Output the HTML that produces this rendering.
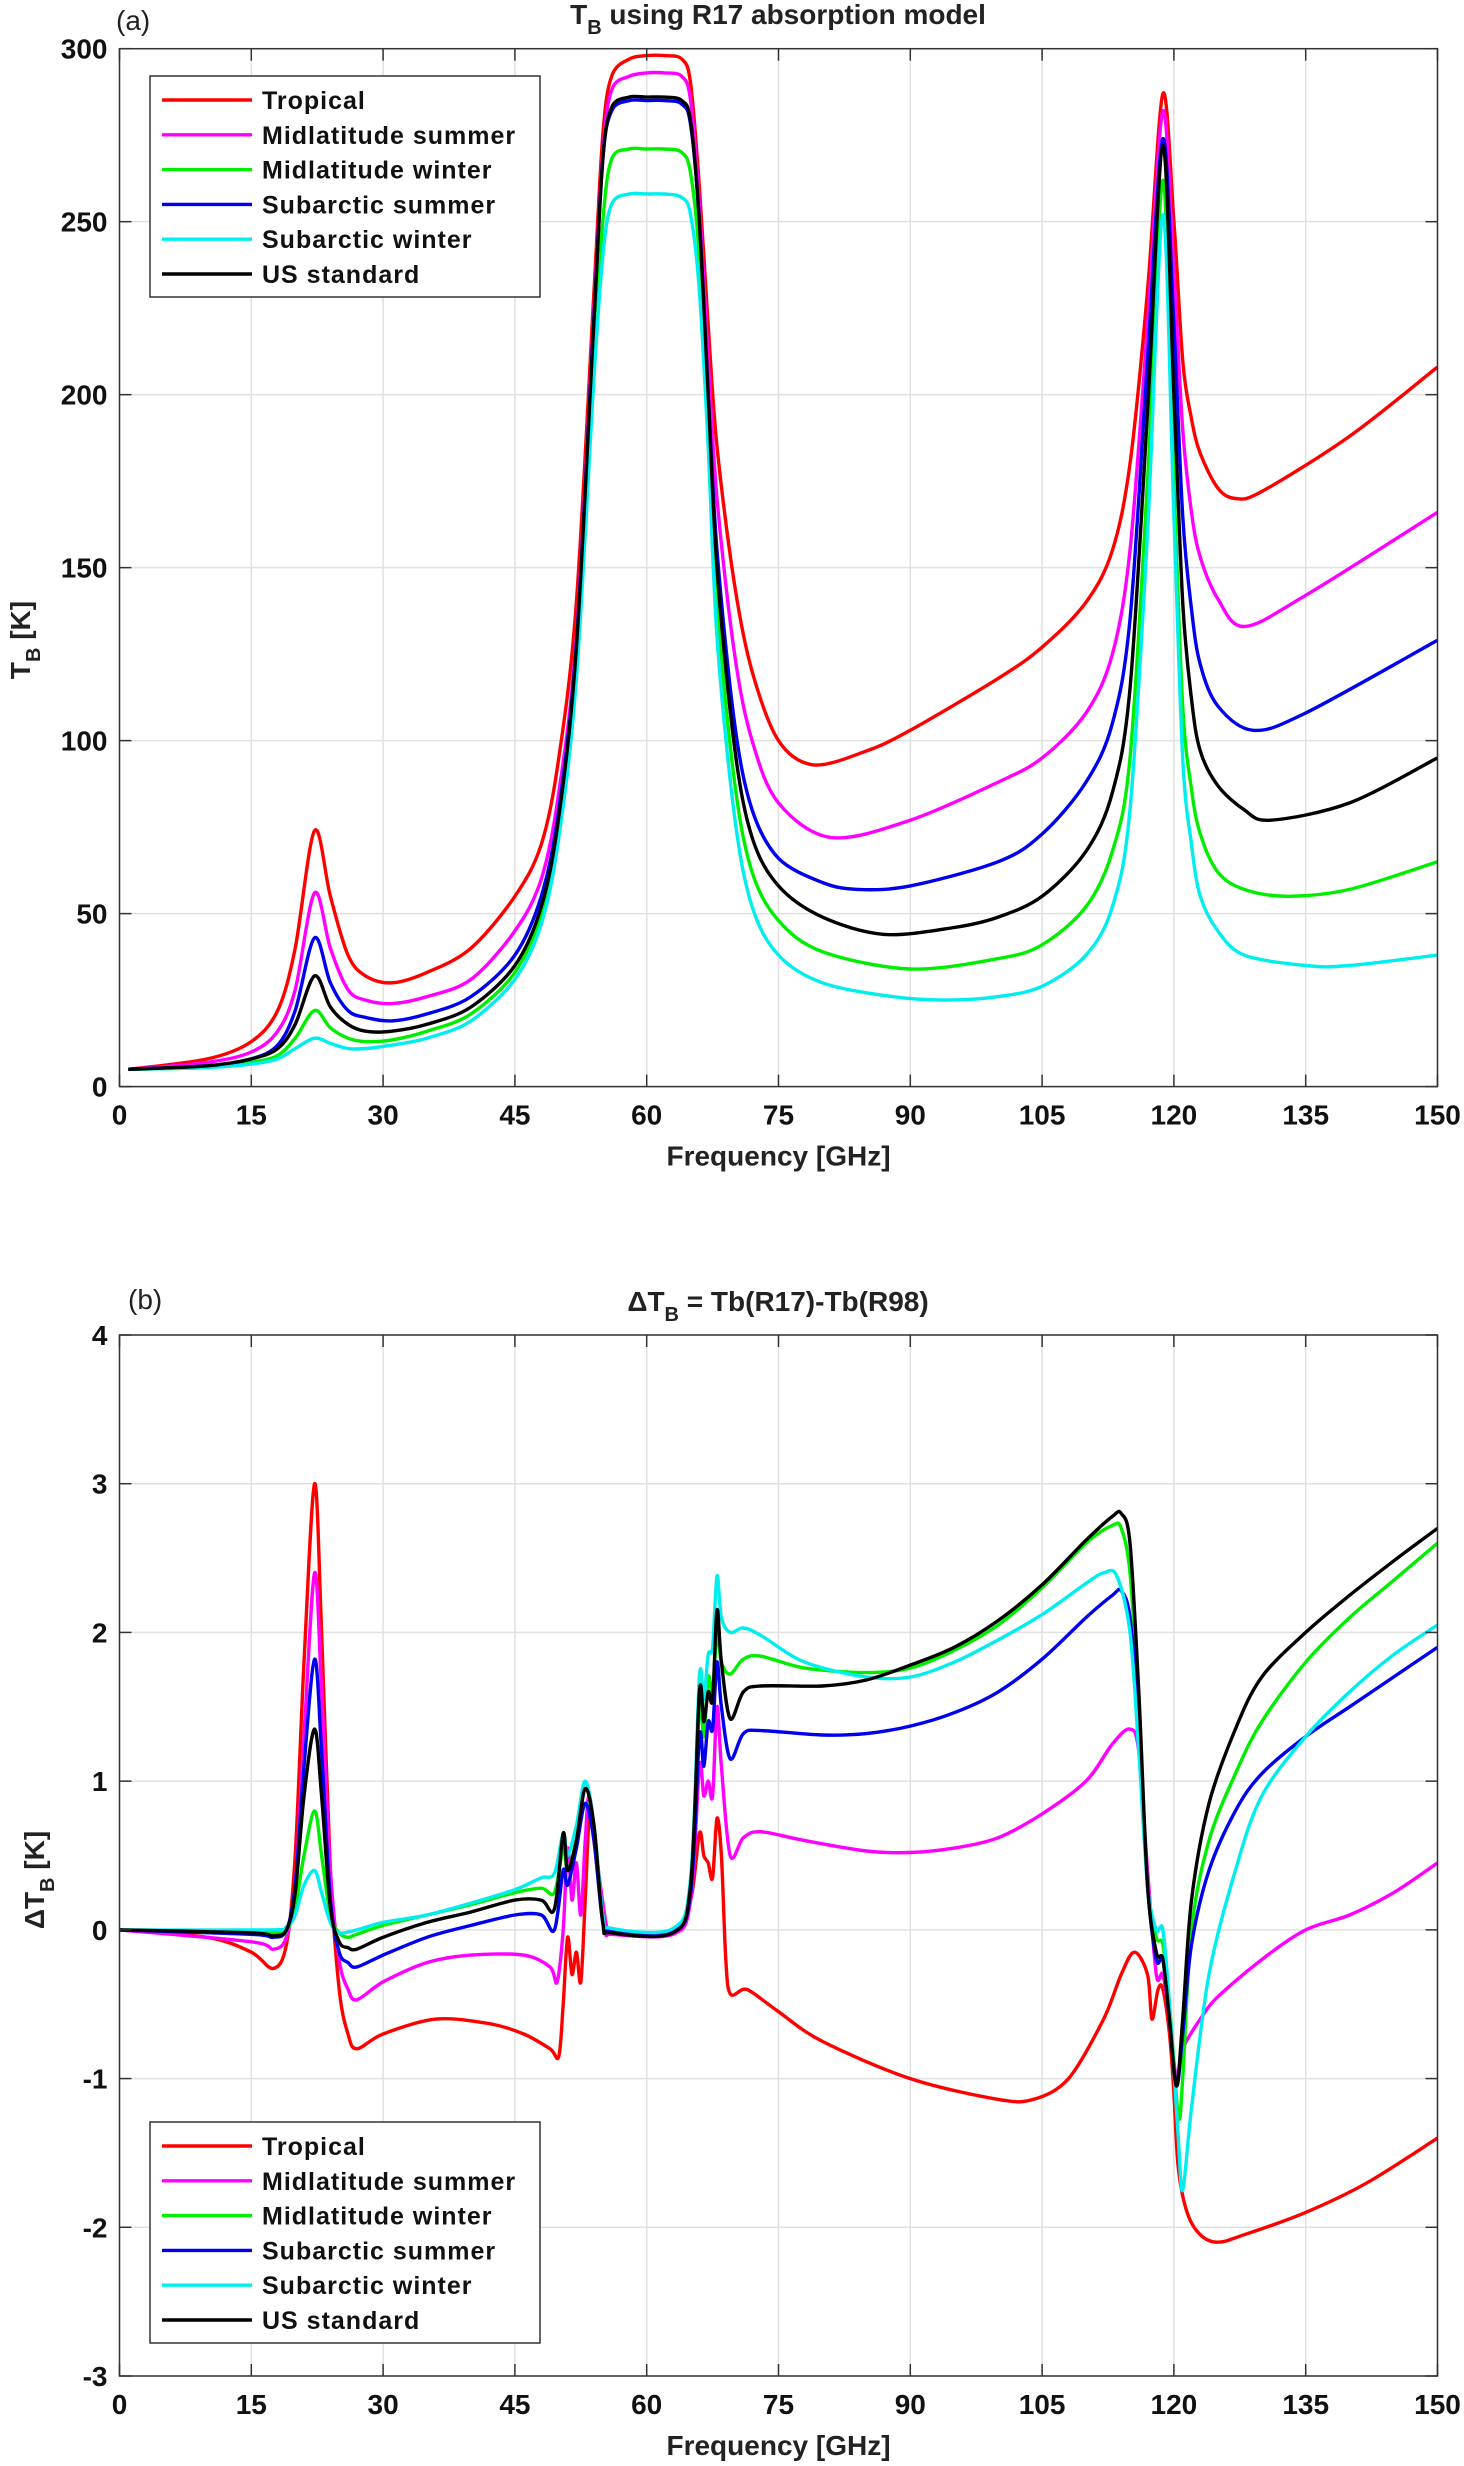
<!DOCTYPE html>
<html><head><meta charset="utf-8"><style>
html,body{margin:0;padding:0;background:#fff;}
svg{display:block;font-family:"Liberation Sans",sans-serif;}
</style></head><body>
<svg id="chart" width="1464" height="2466" viewBox="0 0 1464 2466" xmlns="http://www.w3.org/2000/svg"></svg>
<script>
const xTicks=[0,15,30,45,60,75,90,105,120,135,150];
const yTicksA=[0,50,100,150,200,250,300];
const yTicksB=[-3,-2,-1,0,1,2,3,4];
const names=["Tropical","Midlatitude summer","Midlatitude winter","Subarctic summer","Subarctic winter","US standard"];
const colors=["#ff0000","#ff00ff","#00ee00","#0000ee","#00eeee","#000000"];

// Panel (a) TB
const aTropF=[1,10,15,18,20,22.2,24,26,28,31,35,40,45,48,50,52,54,55,56,58,60,62,64,65,66,67,68,70,72,75,79,85,90,100,105,110,113,115,117,118.75,120,121,122,123,125,127,130,140,150];
const aTropV=[5,8,13,22,40,74,55,38,32,30,33,40,55,70,95,140,230,275,292,297,298,298,297,290,260,220,185,145,120,100,93,97,103,118,127,140,155,180,230,287,250,210,193,183,173,170,172,188,208];
const aMlsF=[1,10,15,18,20,22.2,24,26,28,31,35,40,45,48,50,52,54,55,56,58,60,62,64,65,66,67,68,70,72,75,81,90,100,105,110,113,115,117,118.75,120,121,122,123,125,128,135,150];
const aMlsV=[5,7,10,16,28,56,40,28,25,24,26,31,45,60,85,130,225,270,288,292,293,293,292,285,255,210,170,125,100,82,72,77,88,95,108,125,155,220,282,235,190,166,153,141,133,142,166];
const aMlwF=[1,10,15,18,20,22.2,24,26,28,31,35,40,45,48,50,52,54,55,56,58,60,62,64,65,66,67,68,70,72,75,80,90,100,105,110,113,115,117,118.75,120,121,122,123,125,128,133,140,150];
const aMlwV=[5,5.5,7,9,14,22,17,14,13,13.5,16,21,33,50,75,120,210,250,268,271,271,271,270,264,240,195,140,88,62,48,39,34,37,41,52,68,95,175,262,175,110,86,73,62,57,55,57,65];
const aSasF=[1,10,15,18,20,22.2,24,26,28,31,35,40,45,48,50,52,54,55,56,58,60,62,64,65,66,67,68,70,72,75,80,84,90,100,105,110,113,115,117,118.75,120,121,122,123,125,129,135,150];
const aSasV=[5,6,8,12,22,43,30,22,20,19,21,26,38,55,80,128,222,268,282,285,285,285,284,278,250,200,155,105,80,66,59,57,58,65,73,88,105,135,210,274,220,165,138,122,110,103,108,129];
const aSawF=[1,10,15,18,20,22.2,24,26,28,31,35,40,45,48,50,52,54,55,56,58,60,62,64,65,66,67,68,70,72,75,80,88,94,100,105,110,113,115,117,118.75,120,121,122,123,125,128,135,140,150];
const aSawV=[5,5.5,6.5,8,11,14,12.5,11,11,12,14,19,31,47,72,118,205,240,255,258,258,258,257,252,230,185,130,78,52,38,30,26,25,26,29,38,52,80,160,252,165,95,70,55,45,38,35,35,38];
const aUsF=[1,10,15,18,20,22.2,24,26,28,31,35,40,45,48,50,52,54,55,56,58,60,62,64,65,66,67,68,70,72,75,80,87,95,100,105,110,113,115,117,118.75,120,121,122,123,125,128,131,140,150];
const aUsV=[5,6,8,11,18,32,23,18,16,16,18,23,35,52,78,127,222,268,283,286,286,286,285,279,250,200,150,98,72,58,49,44,46,49,55,68,85,115,195,272,200,140,112,97,87,80,77,82,95];

// Panel (b) dTB
const bTropF=[0,10,15,17.5,19,20,21,22.2,23,24,25,26,27,30,36,42,46,49,50,50.5,51,51.5,52,52.5,53,53.5,54,55,56,60,63,65,66,66.5,67,67.5,68,68.5,69,69.5,71,72,75,80,90,100,104,108,112,114,115.5,117,117.5,118.2,118.75,119.5,120,120.5,121.5,123,125,128,135,142,150];
const bTropV=[0,-0.05,-0.15,-0.26,-0.1,0.5,1.8,3.0,2.0,0.4,-0.4,-0.7,-0.8,-0.7,-0.6,-0.63,-0.7,-0.8,-0.85,-0.5,-0.05,-0.3,-0.15,-0.35,0.2,0.8,0.6,0.1,-0.02,-0.03,-0.02,0.2,0.65,0.5,0.45,0.35,0.75,0.5,-0.2,-0.43,-0.4,-0.42,-0.55,-0.75,-1.0,-1.14,-1.14,-1.0,-0.6,-0.3,-0.15,-0.3,-0.6,-0.4,-0.4,-0.7,-1.1,-1.6,-1.9,-2.05,-2.1,-2.05,-1.9,-1.7,-1.4];
const bMlsF=[0,15,17.5,19,20,21,22.2,23,24,25,26,27,30,35,40,46,49,49.8,50.5,51,51.5,52,52.5,53,53.5,54.5,55.5,56,63,65,66,66.5,67,67.5,68,68.5,69.5,71,73,78,85,90,95,100,105,110,113,115,116,117,118,118.75,119.5,120.3,121,123,125,130,135,140,145,150];
const bMlsV=[0,-0.08,-0.13,-0.05,0.3,1.3,2.4,1.6,0.4,-0.2,-0.4,-0.47,-0.35,-0.22,-0.17,-0.17,-0.25,-0.35,0.0,0.55,0.2,0.45,0.1,0.6,0.9,0.4,0.0,-0.03,-0.03,0.2,1.1,0.9,1.0,0.9,1.5,1.1,0.5,0.62,0.66,0.6,0.53,0.52,0.55,0.62,0.78,1.0,1.25,1.35,1.2,0.4,-0.3,-0.3,-0.6,-1.0,-0.8,-0.6,-0.45,-0.2,0.0,0.1,0.25,0.45];
const bMlwF=[0,17,19,20,21,22.2,23,24,25,26,27,30,35,40,45,48,49.5,50.5,51,52,53,54,55,56,63,65,66,66.5,67,67.5,68,68.5,69.5,71,73,78,85,90,95,100,105,110,113,114,115,116,117,118,118.75,119.5,120.5,121,122,124,127,130,135,140,145,150];
const bMlwV=[0,-0.02,0.0,0.15,0.5,0.8,0.5,0.1,-0.02,-0.05,-0.03,0.03,0.1,0.17,0.25,0.28,0.25,0.55,0.4,0.6,0.85,0.7,0.1,-0.01,0.0,0.3,1.5,1.3,1.7,1.6,2.0,1.8,1.72,1.82,1.84,1.76,1.73,1.76,1.88,2.05,2.3,2.6,2.72,2.7,2.4,1.5,0.3,-0.05,-0.1,-0.5,-1.25,-1.0,0.0,0.6,1.05,1.4,1.8,2.1,2.35,2.6];
const bSasF=[0,15,17.5,19,20,21,22.2,23,24,25,26,27,30,35,40,45,48,49.5,50.5,51,52,53,54,55,56,63,65,66,66.5,67,67.5,68,68.5,69.5,71,73,80,85,90,95,100,105,110,113,114,115,116,117,118,118.75,119.5,120.3,121,122,124,127,130,135,140,145,150];
const bSasV=[0,-0.03,-0.05,0.0,0.3,1.1,1.82,1.2,0.2,-0.15,-0.22,-0.25,-0.17,-0.05,0.03,0.1,0.1,0.0,0.4,0.3,0.55,0.85,0.6,0.05,-0.01,-0.01,0.25,1.3,1.1,1.4,1.35,1.8,1.5,1.15,1.32,1.34,1.31,1.32,1.37,1.46,1.6,1.82,2.1,2.25,2.28,2.1,1.4,0.3,-0.2,-0.2,-0.6,-1.05,-0.7,-0.1,0.4,0.8,1.05,1.3,1.5,1.7,1.9];
const bSawF=[0,17,19,20,21,22.2,23,24,25,27,30,35,40,45,48,49.5,50.5,51,52,53,54,55,56,63,65,66,66.5,67,67.5,68,68.5,69.5,71,73,78,85,90,95,100,105,110,112,113.5,115,116,117,118,118.75,119.5,120.5,121,122,124,127,130,135,140,145,150];
const bSawV=[0,0.0,0.02,0.1,0.3,0.4,0.25,0.05,-0.02,0.0,0.05,0.1,0.18,0.27,0.35,0.38,0.65,0.5,0.7,1.0,0.7,0.1,0.01,0.01,0.35,1.7,1.55,1.85,1.9,2.38,2.1,2.0,2.03,1.98,1.8,1.7,1.7,1.8,1.95,2.12,2.33,2.4,2.38,2.0,1.2,0.3,0.0,0.0,-0.5,-1.4,-1.75,-1.2,-0.3,0.4,0.9,1.3,1.6,1.85,2.05];
const bUsF=[0,15,17.5,19,20,21,22.2,23,24,25,26,27,30,35,40,45,48,49.5,50.5,51,52,53,54,55,56,63,65,66,66.5,67,67.5,68,68.5,69.5,71,73,80,85,90,95,100,105,110,113,114,115,116,117,118,118.75,119.5,120.3,121,122,124,127,130,135,140,145,150];
const bUsV=[0,-0.02,-0.04,0.0,0.25,0.9,1.35,0.9,0.15,-0.08,-0.12,-0.13,-0.05,0.05,0.12,0.2,0.2,0.14,0.65,0.4,0.6,0.95,0.7,0.05,-0.02,-0.02,0.3,1.6,1.4,1.6,1.55,2.15,1.8,1.42,1.6,1.64,1.64,1.68,1.78,1.9,2.08,2.32,2.62,2.78,2.8,2.6,1.6,0.3,-0.15,-0.2,-0.6,-1.05,-0.6,0.2,0.85,1.35,1.7,2.0,2.25,2.48,2.7];

const seriesA=[[aTropF,aTropV],[aMlsF,aMlsV],[aMlwF,aMlwV],[aSasF,aSasV],[aSawF,aSawV],[aUsF,aUsV]];
const seriesB=[[bTropF,bTropV],[bMlsF,bMlsV],[bMlwF,bMlwV],[bSasF,bSasV],[bSawF,bSawV],[bUsF,bUsV]];

const NS="http://www.w3.org/2000/svg";
const svg=document.getElementById('chart');
function mk(tag,attrs,parent){const e=document.createElementNS(NS,tag);for(const k in attrs)e.setAttribute(k,attrs[k]);(parent||svg).appendChild(e);return e;}
function pathD(pts){
  let d="M"+pts[0][0].toFixed(1)+","+pts[0][1].toFixed(1);
  for(let i=0;i<pts.length-1;i++){
    const p0=pts[Math.max(0,i-1)],p1=pts[i],p2=pts[i+1],p3=pts[Math.min(pts.length-1,i+2)];
    const t=0.16;
    const c1=[p1[0]+(p2[0]-p0[0])*t,p1[1]+(p2[1]-p0[1])*t];
    const c2=[p2[0]-(p3[0]-p1[0])*t,p2[1]-(p3[1]-p1[1])*t];
    d+="C"+c1[0].toFixed(1)+","+c1[1].toFixed(1)+" "+c2[0].toFixed(1)+","+c2[1].toFixed(1)+" "+p2[0].toFixed(1)+","+p2[1].toFixed(1);
  }
  return d;
}
function panel(cfg){
  const g=mk('g',{});
  
  
  const L=119.5,R=1437.5,T=cfg.top,B=cfg.bottom;
  const xs=f=>L+(f-0)/(150-0)*(R-L);
  const ys=v=>B-(v-cfg.ymin)/(cfg.ymax-cfg.ymin)*(B-T);
  mk('rect',{x:L,y:T,width:R-L,height:B-T,fill:'#fff'},g);
  const grid=mk('g',{stroke:'#e0e0e0','stroke-width':1.5},g);
  
  
  xTicks.forEach(t=>{mk('line',{x1:xs(t),x2:xs(t),y1:T,y2:B},grid);});
  cfg.yt.forEach(t=>{mk('line',{x1:L,x2:R,y1:ys(t),y2:ys(t)},grid);});
  cfg.series.forEach((s,i)=>{
    const pts=s[0].map((f,j)=>[xs(f),ys(s[1][j])]);
    const p=mk('path',{d:pathD(pts),fill:'none',stroke:colors[i],'stroke-width':3.4,'stroke-linejoin':'round'},g);
    
    
  });
  mk('rect',{x:L,y:T,width:R-L,height:B-T,fill:'none',stroke:'#333','stroke-width':1.5},g);
  const tk=mk('g',{stroke:'#333','stroke-width':1.5},g);
  xTicks.forEach(t=>{mk('line',{x1:xs(t),x2:xs(t),y1:B,y2:B-12},tk);mk('line',{x1:xs(t),x2:xs(t),y1:T,y2:T+12},tk);});
  cfg.yt.forEach(t=>{mk('line',{x1:L,x2:L+12,y1:ys(t),y2:ys(t)},tk);mk('line',{x1:R,x2:R-12,y1:ys(t),y2:ys(t)},tk);});
  xTicks.forEach(t=>{const e=mk('text',{x:xs(t),y:B+38,'text-anchor':'middle','font-size':28,'font-weight':'bold',fill:'#111'},g);e.textContent=t;
    });
  cfg.yt.forEach(t=>{const e=mk('text',{x:L-12,y:ys(t)+10,'text-anchor':'end','font-size':28,'font-weight':'bold',fill:'#111'},g);e.textContent=t;
    });
  const xl=mk('text',{x:(L+R)/2,y:B+79,'text-anchor':'middle','font-size':28,'font-weight':'bold',fill:'#222'},g);
  xl.textContent='Frequency [GHz]';
  
  const lg=mk('g',{},g);
  
  mk('rect',{x:150,y:cfg.legTop,width:390,height:221,fill:'#fff',stroke:'#333','stroke-width':1.5},lg);
  names.forEach((n,i)=>{
    const y=cfg.legTop+24+i*34.8;
    const row=mk('g',{},lg);
    
    mk('line',{x1:162,x2:252,y1:y,y2:y,stroke:colors[i],'stroke-width':3.4},row);
    const tx=mk('text',{x:262,y:y+9,'font-size':25,'font-weight':'bold','letter-spacing':'1',fill:'#111'},row);tx.textContent=n;
  });
  return {xs,ys};
}
panel({id:'tb',top:48.7,bottom:1086.6,ymin:0,ymax:300,yt:yTicksA,series:seriesA,legTop:76});
panel({id:'dtb',top:1335,bottom:2376,ymin:-3,ymax:4,yt:yTicksB,series:seriesB,legTop:2122});
</script>
<svg style="position:absolute;left:0;top:0" width="1464" height="2466">
  <text x="116" y="30" font-family="Liberation Sans" font-size="28" fill="#222">(a)</text>
  <text x="778" y="24" text-anchor="middle" font-family="Liberation Sans" font-size="28" font-weight="bold" fill="#222">T<tspan font-size="20" dy="10">B</tspan><tspan dy="-10"> using R17 absorption model</tspan></text>
  <text x="128" y="1309" font-family="Liberation Sans" font-size="28" fill="#222">(b)</text>
  <text x="778" y="1311" text-anchor="middle" font-family="Liberation Sans" font-size="28" font-weight="bold" fill="#222">ΔT<tspan font-size="20" dy="10">B</tspan><tspan dy="-10"> = Tb(R17)-Tb(R98)</tspan></text>
  <text transform="translate(30,640) rotate(-90)" text-anchor="middle" font-family="Liberation Sans" font-size="28" font-weight="bold" fill="#222">T<tspan font-size="20" dy="10">B</tspan><tspan dy="-10"> [K]</tspan></text>
  <text transform="translate(44,1880) rotate(-90)" text-anchor="middle" font-family="Liberation Sans" font-size="28" font-weight="bold" fill="#222">ΔT<tspan font-size="20" dy="10">B</tspan><tspan dy="-10"> [K]</tspan></text>
</svg>
</body></html>
